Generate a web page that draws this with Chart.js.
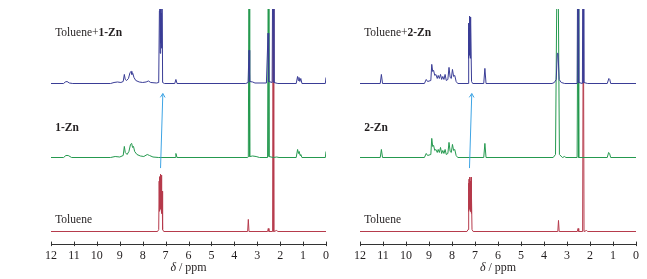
<!DOCTYPE html>
<html>
<head>
<meta charset="utf-8">
<script src="https://cdn.jsdelivr.net/npm/chart.js@4.4.1/dist/chart.umd.min.js"></script>
<style>
  html, body { margin: 0; padding: 0; background: #fff; }
  #wrap { position: relative; width: 647px; height: 279px; }
  canvas { position: absolute; top: 0; }
  #left { left: 0; }
  #right { left: 330px; }
</style>
</head>
<body>
<div id="wrap">
  <canvas id="left" width="330" height="279"></canvas>
  <canvas id="right" width="317" height="279"></canvas>
</div>
<script>
// chemical shift axis (ppm), drawn from 12 down to 0
const ppmTicks = [12, 11, 10, 9, 8, 7, 6, 5, 4, 3, 2, 1, 0];

// spectrum labels: plain part + bold part
const labelsLeft  = [['Toluene+', '1-Zn'], ['', '1-Zn'], ['Toluene', '']];
const labelsRight = [['Toluene+', '2-Zn'], ['', '2-Zn'], ['Toluene', '']];

// --- left panel: toluene + 1-Zn (vertices) ---
const mix1Ppm = [12, 11.45, 11.38, 11.3, 11.2, 11.05, 9.4, 9.25, 9.1, 8.95, 8.85, 8.8, 8.76, 8.7, 8.62, 8.55, 8.5, 8.47, 8.43, 8.38, 8.3, 8.15, 8.0, 7.85, 7.75, 7.65, 7.4, 7.3, 7.27, 7.25, 7.24, 7.22, 7.21, 7.19, 7.18, 7.16, 7.13, 7.05, 6.6, 6.55, 6.5, 3.5, 3.4, 3.36, 3.33, 3.2, 3.1, 2.6, 2.53, 2.5, 2.35, 2.31, 2.27, 2.1, 1.3, 1.24, 1.21, 1.18, 1.14, 1.1, 1.05, 0.03, 0];
const mix1Int = [0, 0, 1.5, 2, 0.5, 0, 0, 1, 1.5, 1, 2, 9, 4, 3, 5, 11, 12, 9, 10, 6, 3, 1.5, 1, 1.5, 2.5, 1, 0.5, 1, 72, 80, 30, 200, 40, 70, 35, 200, 1, 0, 0, 4, 0, 0, 1, 33, 2, 1.5, 0.5, 0.5, 50, 2, 1, 200, 1, 0, 0, 7, 3, 6, 2, 5, 0, 0, 6];

const zn1Ppm = [12, 11.45, 11.35, 11.25, 11.1, 9.4, 9.2, 9.0, 8.85, 8.8, 8.76, 8.68, 8.6, 8.53, 8.48, 8.44, 8.4, 8.35, 8.25, 8.1, 7.95, 7.8, 7.7, 7.55, 7.3, 6.58, 6.55, 6.5, 3.42, 3.39, 3.36, 3.33, 3.2, 3.05, 2.9, 2.55, 2.52, 2.49, 2.3, 2.15, 2.05, 1.3, 1.24, 1.2, 1.17, 1.13, 1.1, 1.05, 0.03, 0];
const zn1Int = [0, 0, 2, 2, 0, 0, 1, 0.5, 2, 11, 5, 3, 6, 13, 14, 10, 11, 6, 3, 1.5, 1, 3, 2, 0.5, 0, 0, 4, 0, 0, 0.5, 200, 1, 1.5, 1, 0, 0, 200, 1, 0, 0.5, 0, 0, 8, 4, 6, 2, 3, 0, 0, 6];

const tol1Ppm = [12, 7.35, 7.3, 7.28, 7.27, 7.26, 7.25, 7.24, 7.23, 7.22, 7.21, 7.2, 7.19, 7.17, 7.16, 7.15, 7.13, 7.08, 3.42, 3.39, 3.36, 2.55, 2.52, 2.49, 2.33, 2.31, 2.28, 2.15, 2.1, 0];
const tol1Int = [0, 0, 2, 50, 20, 54, 25, 55, 22, 57, 24, 52, 20, 56, 18, 40, 2, 0, 0, 12, 0, 0, 3, 0, 0, 260, 0, 1, 0, 0];

// --- right panel: toluene + 2-Zn ---
const mix2Ppm = [12, 11.12, 11.07, 11.02, 9.2, 9.12, 9.06, 8.92, 8.88, 8.84, 8.8, 8.75, 8.7, 8.64, 8.6, 8.55, 8.5, 8.45, 8.4, 8.35, 8.3, 8.25, 8.18, 8.13, 8.08, 8.03, 7.98, 7.93, 7.88, 7.82, 7.75, 7.3, 7.28, 7.27, 7.26, 7.25, 7.24, 7.23, 7.22, 7.21, 7.2, 7.19, 7.18, 7.15, 7.1, 6.62, 6.57, 6.52, 3.65, 3.55, 3.47, 3.42, 3.39, 3.34, 3.25, 3.1, 2.56, 2.52, 2.49, 2.33, 2.3, 2.27, 2.1, 1.25, 1.18, 1.14, 1.1, 0];
const mix2Int = [0, 0, 9, 0, 0, 4, 2, 3, 19, 12, 13, 8, 9, 5, 8, 5, 9, 4, 7, 4, 9, 3, 4, 16, 6, 5, 14, 7, 8, 2, 0, 0, 60, 25, 55, 28, 67, 30, 62, 28, 66, 25, 60, 2, 0, 0, 15, 0, 0, 1, 4, 30, 30, 4, 1, 0, 0, 200, 1, 0, 200, 1, 0, 0, 5, 4, 0, 0];

const zn2Ppm = [12, 11.12, 11.07, 11.02, 9.2, 9.12, 9.06, 8.92, 8.88, 8.84, 8.8, 8.75, 8.7, 8.64, 8.6, 8.55, 8.5, 8.45, 8.4, 8.35, 8.3, 8.25, 8.18, 8.13, 8.08, 8.03, 7.98, 7.93, 7.88, 7.82, 7.75, 6.62, 6.57, 6.52, 3.6, 3.5, 3.43, 3.39, 3.33, 3.2, 3.1, 3.05, 2.56, 2.52, 2.49, 1.25, 1.19, 1.15, 1.1, 0];
const zn2Int = [0, 0, 8, 0, 0, 4, 2, 3, 19, 11, 12, 7, 8, 5, 8, 5, 10, 4, 7, 4, 8, 3, 4, 15, 6, 5, 13, 7, 8, 2, 0, 0, 14, 0, 0, 3, 200, 200, 3, 0, 1, 0, 0, 200, 0, 0, 5, 4, 0, 0];

const tol2Ppm = [12, 7.35, 7.3, 7.28, 7.27, 7.26, 7.25, 7.24, 7.23, 7.22, 7.21, 7.2, 7.19, 7.17, 7.16, 7.15, 7.13, 7.08, 3.4, 3.37, 3.34, 2.55, 2.52, 2.49, 2.32, 2.29, 2.26, 2.15, 2.1, 0];
const tol2Int = [0, 0, 2, 48, 20, 52, 22, 54, 24, 53, 22, 50, 20, 54, 18, 38, 2, 0, 0, 11, 0, 0, 3, 0, 0, 260, 0, 1, 0, 0];

// arrow from the toluene signal up to the mixture trace
const arrowPpm1 = [7.22, 7.12];
const arrowPpm2 = [7.24, 7.14];
const arrowLevel = [76, 150];

// vertical stacking of the three traces
const baseTol = 13, baseZn = 86.5, baseMix = 160;
const blue = '#3a3d96', green = '#25994f', red = '#b63b4c', arrowColor = '#3ea4e4';
const serif = '"Liberation Serif", "Times New Roman", serif';

function serie(ppm, inten, base) {
  return ppm.map((p, i) => ({ x: p, y: inten[i] + base }));
}

const nmrText = {
  id: 'nmrText',
  afterDatasetsDraw(chart, args, opts) {
    const { ctx, chartArea } = chart;
    const x = chart.scales.x, y = chart.scales.y;
    ctx.save();
    ctx.fillStyle = '#231f20';
    ctx.textBaseline = 'middle';
    ctx.textAlign = 'left';
    opts.labels.forEach((l, i) => {
      let px = x.getPixelForValue(opts.labelX);
      const py = y.getPixelForValue(opts.labelY[i]);
      ctx.font = '11.5px ' + serif;
      ctx.fillText(l[0], px, py);
      px += ctx.measureText(l[0]).width;
      ctx.font = 'bold 11.5px ' + serif;
      ctx.fillText(l[1], px, py);
    });

    // arrow head
    const pts = chart.getDatasetMeta(0).data;
    const a = pts[0], b = pts[1];
    const ang = Math.atan2(b.y - a.y, b.x - a.x);
    ctx.strokeStyle = arrowColor;
    ctx.lineWidth = 1;
    ctx.beginPath();
    ctx.moveTo(b.x - 4.5 * Math.cos(ang - 0.55), b.y - 4.5 * Math.sin(ang - 0.55));
    ctx.lineTo(b.x, b.y);
    ctx.lineTo(b.x - 4.5 * Math.cos(ang + 0.55), b.y - 4.5 * Math.sin(ang + 0.55));
    ctx.stroke();

    // tick marks (cross the axis line, mostly upward)
    ctx.strokeStyle = '#333';
    ctx.beginPath();
    x.ticks.forEach(t => {
      const px = Math.round(x.getPixelForValue(t.value)) + 0.5;
      ctx.moveTo(px, chartArea.bottom - 3);
      ctx.lineTo(px, chartArea.bottom + 1.5);
    });
    ctx.stroke();

    // axis title: italic delta + " / ppm"
    const t1 = 'δ', t2 = ' / ppm';
    ctx.font = 'italic 12px ' + serif;
    const w1 = ctx.measureText(t1).width;
    ctx.font = '12px ' + serif;
    const w2 = ctx.measureText(t2).width;
    const cx = (chartArea.left + chartArea.right) / 2;
    const ty = chartArea.bottom + 23.5;
    ctx.font = 'italic 12px ' + serif;
    ctx.fillText(t1, cx - (w1 + w2) / 2, ty);
    ctx.font = '12px ' + serif;
    ctx.fillText(t2, cx - (w1 + w2) / 2 + w1, ty);
    ctx.restore();
  }
};

function makePanel(id, mix, zn, tol, arrowPpm, labels, pad) {
  const line = (data, color) => ({
    data, borderColor: color, borderWidth: 1, pointRadius: 0, tension: 0, fill: false
  });
  new Chart(document.getElementById(id), {
    type: 'line',
    data: {
      datasets: [
        line(arrowPpm.map((p, i) => ({ x: p, y: arrowLevel[i] })), arrowColor),
        line(serie(mix[0], mix[1], baseMix), blue),
        line(serie(zn[0], zn[1], baseZn), green),
        line(serie(tol[0], tol[1], baseTol), red)
      ]
    },
    options: {
      responsive: false,
      animation: false,
      events: [],
      layout: { padding: pad },
      scales: {
        x: {
          type: 'linear', reverse: true, min: 0, max: 12,
          afterBuildTicks: s => { s.ticks = ppmTicks.map(v => ({ value: v })); },
          ticks: { font: { family: serif, size: 12 }, color: '#231f20', padding: 1, maxRotation: 0 },
          grid: { display: true, drawOnChartArea: false, drawTicks: true, tickLength: 3, color: 'rgba(0,0,0,0)' },
          border: { display: true, color: '#333', width: 1 }
        },
        y: { display: false, min: 0, max: 234 }
      },
      plugins: {
        legend: { display: false },
        tooltip: { enabled: false },
        nmrText: { labels, labelX: 11.82, labelY: [210, 116, 24] }
      }
    },
    plugins: [nmrText]
  });
}

makePanel('left', [mix1Ppm, mix1Int], [zn1Ppm, zn1Int], [tol1Ppm, tol1Int], arrowPpm1, labelsLeft,
  { left: 51, right: 3, top: 9, bottom: 15 });
makePanel('right', [mix2Ppm, mix2Int], [zn2Ppm, zn2Int], [tol2Ppm, tol2Int], arrowPpm2, labelsRight,
  { left: 30, right: 11, top: 9, bottom: 15 });
</script>
</body>
</html>
